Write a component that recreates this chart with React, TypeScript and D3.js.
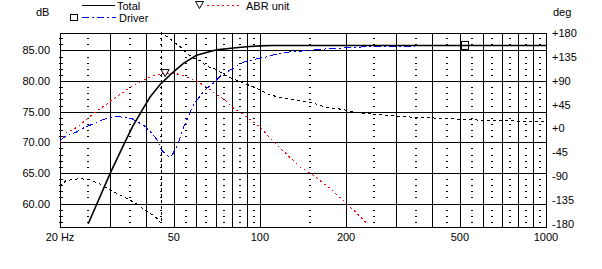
import React from 'react';
import * as d3 from 'd3';

// ---------- data ----------
const freqTicks = [20, 50, 100, 200, 500, 1000];
const freqTickLabels = ['20 Hz', '50', '100', '200', '500', '1000'];
const majorFreqs = [20, 30, 40, 50, 60, 70, 80, 90, 100, 200, 300, 400, 500, 600, 700, 800, 900, 1000];
const minorFreqs = [25, 35, 45, 55, 65, 75, 85, 95, 150, 250, 350, 450, 550, 650, 750, 850, 950];
const dbTicks = [60, 65, 70, 75, 80, 85];
const dbTickLabels = ['60.00', '65.00', '70.00', '75.00', '80.00', '85.00'];
const dbMinor = [57, 58, 59, 61, 62, 63, 64, 66, 67, 68, 69, 71, 72, 73, 74, 76, 77, 78, 79, 81, 82, 83, 84, 86, 87];
const phaseTicks = [180, 135, 90, 45, 0, -45, -90, -135, -180];
const phaseTickLabels = ['+180', '+135', '+90', '+45', '+0', '-45', '-90', '-135', '-180'];

// Total magnitude [Hz, dB]
const totalSeries: [number, number][] = [
  [25.1, 56.7], [30, 65.0], [33.8, 70.1], [35.9, 72.6], [38.8, 75.3], [41.3, 77.4],
  [44.7, 79.4], [48.5, 81.0], [54, 82.9], [60, 84.2], [70.6, 85.1], [80.7, 85.4],
  [92, 85.65], [100, 85.75], [110, 85.82], [1000, 85.82],
];

// Driver magnitude [Hz, dB]
const driverSeries: [number, number][] = [
  [20, 70.3], [20.8, 70.9], [22.9, 71.7], [24.5, 72.5], [25.5, 72.8], [27.6, 73.5],
  [30, 74.1], [31.1, 74.2], [33.2, 74.1], [35.6, 73.9], [37.1, 73.4], [39.7, 72.6],
  [42.4, 71.2], [44.1, 70.1], [45.3, 68.7], [48.5, 67.5], [49.7, 68.2], [51.8, 69.8],
  [53.3, 71.7], [54, 72.4], [56.2, 74.2], [58.5, 76.1], [64.3, 78.6], [67.8, 79.4],
  [73.5, 81.0], [80.7, 82.1], [88.7, 83.2], [94.8, 83.5], [100, 83.74], [106.9, 84.0],
  [111.4, 84.28], [124, 84.72], [141.8, 84.93], [171.1, 85.26], [206.5, 85.49],
  [249, 85.65], [325.8, 85.7], [450, 85.82], [1000, 85.82],
];

// ABR unit magnitude [Hz, dB]
const abrSeries: [number, number][] = [
  [20, 70.1], [20.8, 71.4], [22.6, 72.3], [23.5, 72.8], [24.8, 73.8], [27.2, 75.3],
  [28.7, 76.0], [30.3, 76.9], [32.9, 78.0], [36.1, 79.3], [38.6, 80.0], [41.8, 80.75],
  [43.6, 81.0], [46.6, 81.3], [49.8, 81.3], [53.3, 81.0], [56.9, 80.5], [61.7, 79.7],
  [66, 78.8], [70.6, 77.75], [75.5, 76.9], [80.7, 75.6], [86.3, 74.75], [92.3, 73.7],
  [100, 72.5], [106.9, 71.0], [114.4, 69.6], [138, 66.0], [153.7, 64.6], [175.8, 62.45],
  [201, 60.0], [236, 56.8],
];

// Total phase [Hz, deg]
const phaseSeries: [number, number][] = [
  [20, -110], [21, -98.5], [23.5, -94.7], [25.5, -97.6], [27.6, -104.8], [29.5, -114.2],
  [31.9, -123.7], [34.6, -133.2], [37.5, -144.6], [40.7, -158.6], [43, -166.2],
  [45.3, -180], [45.3, 180], [47.2, 173.7], [49.7, 164.3], [53.3, 151.6], [55.4, 142.1],
  [58.5, 132.6], [62.6, 126.4], [65.1, 116.9], [68.7, 113.7], [73.5, 104.2], [79.6, 94.7],
  [85.2, 88.5], [91.1, 82.0], [97.4, 75.8], [102.7, 69.5], [108.4, 63.1], [117.5, 58.7],
  [130.8, 54.9], [149.6, 49.3], [171.1, 39.8], [193.1, 36.0], [223.7, 28.4], [256, 26.5],
  [308.9, 22.2], [461.7, 18.4], [603.8, 15.2], [790, 13.8], [1000, 12.3],
];

const abrMarker: [number, number] = [46.6, 81.3];
const driverMarker: [number, number] = [521, 85.82];

// ---------- chart ----------
const W = 602;
const H = 269;
const FONT = '"Liberation Sans", Arial, sans-serif';

export default function App() {
  const x = d3.scaleLog().domain([20, 1000]).range([60, 546]);
  const yDb = d3.scaleLinear().domain([56, 87.85]).range([228, 33]);
  const yPh = d3.scaleLinear().domain([-188, 180]).range([228, 33]);
  const px = (v: number) => Math.round(v) + 0.5;

  const dbLine = d3.line<[number, number]>().x(d => x(d[0])).y(d => yDb(d[1]));
  const phLine = d3.line<[number, number]>().x(d => x(d[0])).y(d => yPh(d[1]));

  const top = 33;
  const bottom = 228;
  const left = px(x(20));
  const right = px(x(1000));

  const tri = (cx: number, cy: number) =>
    `M${cx - 4},${cy - 3.5}L${cx + 4},${cy - 3.5}L${cx},${cy + 3.5}Z`;

  const am = [x(abrMarker[0]), yDb(abrMarker[1])];
  const dm = [x(driverMarker[0]), yDb(driverMarker[1])];

  return (
    <div style={{ position: 'fixed', left: 0, top: 0 }}>
      <svg width={W} height={H} style={{ display: 'block', background: '#fff' }} fontFamily={FONT} fontSize={11}>
        <rect x={0} y={0} width={W} height={H} fill="#fff" />
        {/* minor dotted grid (1 dB marks) */}
        <g stroke="#000" strokeWidth={1} shapeRendering="crispEdges">
          {minorFreqs.map(f =>
            dbMinor.map(v => (
              <line key={`m${f}-${v}`} x1={Math.round(x(f)) - 1} x2={Math.round(x(f)) + 1} y1={px(yDb(v))} y2={px(yDb(v))} />
            ))
          )}
          {dbMinor.map(v => (
            <line key={`lt${v}`} x1={left - 2} x2={left + 2.5} y1={px(yDb(v))} y2={px(yDb(v))} />
          ))}
        </g>
        {/* major grid */}
        <g stroke="#000" strokeWidth={1} shapeRendering="crispEdges">
          {majorFreqs.map(f => (
            <line key={`v${f}`} x1={px(x(f))} x2={px(x(f))} y1={top} y2={bottom} />
          ))}
          {dbTicks.map(v => (
            <line key={`h${v}`} x1={left} x2={right} y1={px(yDb(v))} y2={px(yDb(v))} />
          ))}
          <line x1={left} x2={right} y1={top + 0.5} y2={top + 0.5} />
          <line x1={left} x2={right} y1={bottom - 0.5} y2={bottom - 0.5} />
        </g>

        {/* curves */}
        <path d={phLine(phaseSeries) || ''} fill="none" stroke="#000" strokeWidth={1} strokeDasharray="3,3" shapeRendering="crispEdges" />
        <path d={dbLine(abrSeries) || ''} fill="none" stroke="#ff0000" strokeWidth={1} strokeDasharray="2,3" shapeRendering="crispEdges" />
        <path d={dbLine(driverSeries) || ''} fill="none" stroke="#0000ff" strokeWidth={1} strokeDasharray="7,3,2,3" shapeRendering="crispEdges" />
        <path d={dbLine(totalSeries) || ''} fill="none" stroke="#000" strokeWidth={1.6} />

        {/* markers */}
        <path d={tri(am[0], am[1])} fill="#fff" stroke="#000" strokeWidth={1} />
        <rect x={dm[0] - 3.5} y={dm[1] - 4} width={7} height={8} fill="none" stroke="#000" strokeWidth={1} />

        {/* left axis labels */}
        <text x={36} y={16} fill="#000">dB</text>
        {dbTicks.map((v, i) => (
          <text key={`dl${v}`} x={50} y={yDb(v) + 4} textAnchor="end" fill="#000">{dbTickLabels[i]}</text>
        ))}
        {/* right axis labels */}
        <text x={553} y={16} fill="#000">deg</text>
        {phaseTicks.map((v, i) => (
          <text key={`pl${v}`} x={552} y={yPh(v) + 4} fill="#000">{phaseTickLabels[i]}</text>
        ))}
        {/* x labels */}
        {freqTicks.map((f, i) => (
          <text key={`xl${f}`} x={x(f)} y={241} textAnchor="middle" fill="#000">{freqTickLabels[i]}</text>
        ))}

        {/* legend */}
        <line x1={82} x2={115} y1={5.5} y2={5.5} stroke="#000" strokeWidth={1} />
        <text x={117} y={10} fill="#000">Total</text>
        <rect x={70.5} y={14.5} width={7} height={6} fill="none" stroke="#000" strokeWidth={1} />
        <line x1={82} x2={116} y1={17.5} y2={17.5} stroke="#0000ff" strokeWidth={1} strokeDasharray="7,3,2,3" />
        <text x={119} y={21.5} fill="#000">Driver</text>
        <path d={tri(199.5, 5)} fill="#fff" stroke="#000" strokeWidth={1} />
        <line x1={207} x2={241} y1={5.5} y2={5.5} stroke="#ff0000" strokeWidth={1} strokeDasharray="2,3" />
        <text x={246} y={10} fill="#000">ABR unit</text>
      </svg>
    </div>
  );
}
